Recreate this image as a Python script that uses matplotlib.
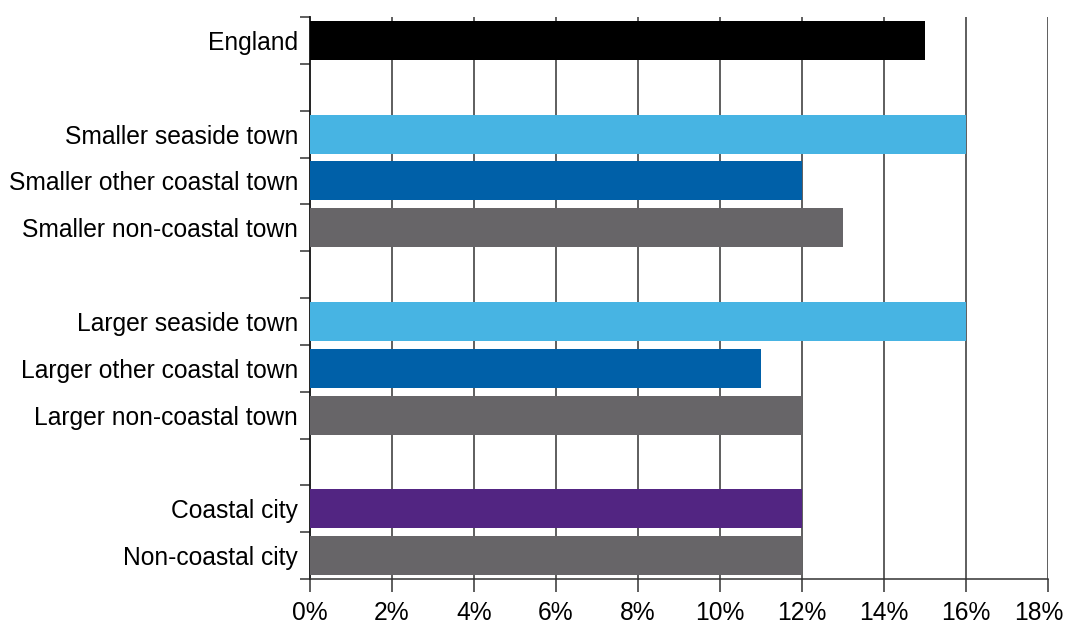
import matplotlib
matplotlib.use("Agg")
import matplotlib.pyplot as plt
import numpy as np

plt.rcParams['font.family'] = ['Liberation Sans', 'DejaVu Sans']

# Rows from top to bottom; empty strings are spacer rows between groups
categories = ["England", "",
              "Smaller seaside town", "Smaller other coastal town", "Smaller non-coastal town", "",
              "Larger seaside town", "Larger other coastal town", "Larger non-coastal town", "",
              "Coastal city", "Non-coastal city"]
values = [15, None,
          16, 12, 13, None,
          16, 11, 12, None,
          12, 12]
colors = ["#000000", None,
          "#47B4E3", "#0060A8", "#676568", None,
          "#47B4E3", "#0060A8", "#676568", None,
          "#522582", "#676568"]
xticks = [0, 2, 4, 6, 8, 10, 12, 14, 16, 18]
xticklabels = ["0%", "2%", "4%", "6%", "8%", "10%", "12%", "14%", "16%", "18%"]

FS = 17.7
TICK_LEN = 9
TICK_PAD = 7

fig = plt.figure(figsize=(10.66, 6.24), dpi=100)
ax = fig.add_axes([310 / 1066, (624 - 579) / 624, (1048 - 310) / 1066, (579 - 17) / 624])

n = len(categories)
ypos = np.arange(n)
for y, v, c in zip(ypos, values, colors):
    if v is None:
        continue
    ax.barh(y, v, height=0.83, color=c, zorder=3)

ax.set_xlim(0, 18)
ax.set_ylim(n - 0.5, -0.5)

# the final label is nudged left so it stays inside the figure
ax.set_xticks(xticks)
ax.set_xticklabels(xticklabels[:-1] + [""], fontsize=FS)
ax.annotate(xticklabels[-1], xy=(xticks[-1], 0), xycoords=("data", "axes fraction"),
            xytext=(-6.5, -(TICK_LEN + TICK_PAD)), textcoords="offset points",
            ha="center", va="top", fontsize=FS)
for x in xticks[1:]:
    ax.axvline(x, color="#333333", linewidth=1.1, zorder=1)

ax.set_yticks(ypos)
ax.set_yticklabels(categories, fontsize=FS)
ax.set_yticks(np.arange(n + 1) - 0.5, minor=True)
ax.tick_params(axis="y", which="major", length=0, pad=8.5)
ax.tick_params(axis="y", which="minor", length=7, width=1.1, color="#333333", direction="out")
ax.tick_params(axis="x", which="major", length=TICK_LEN, width=1.1, color="#333333",
               direction="out", pad=TICK_PAD)

for side in ("top", "right"):
    ax.spines[side].set_visible(False)
ax.spines["left"].set_color("#111111")
ax.spines["left"].set_linewidth(1.3)
ax.spines["bottom"].set_color("#333333")
ax.spines["bottom"].set_linewidth(1.1)

fig.savefig("out.png", dpi=100)
